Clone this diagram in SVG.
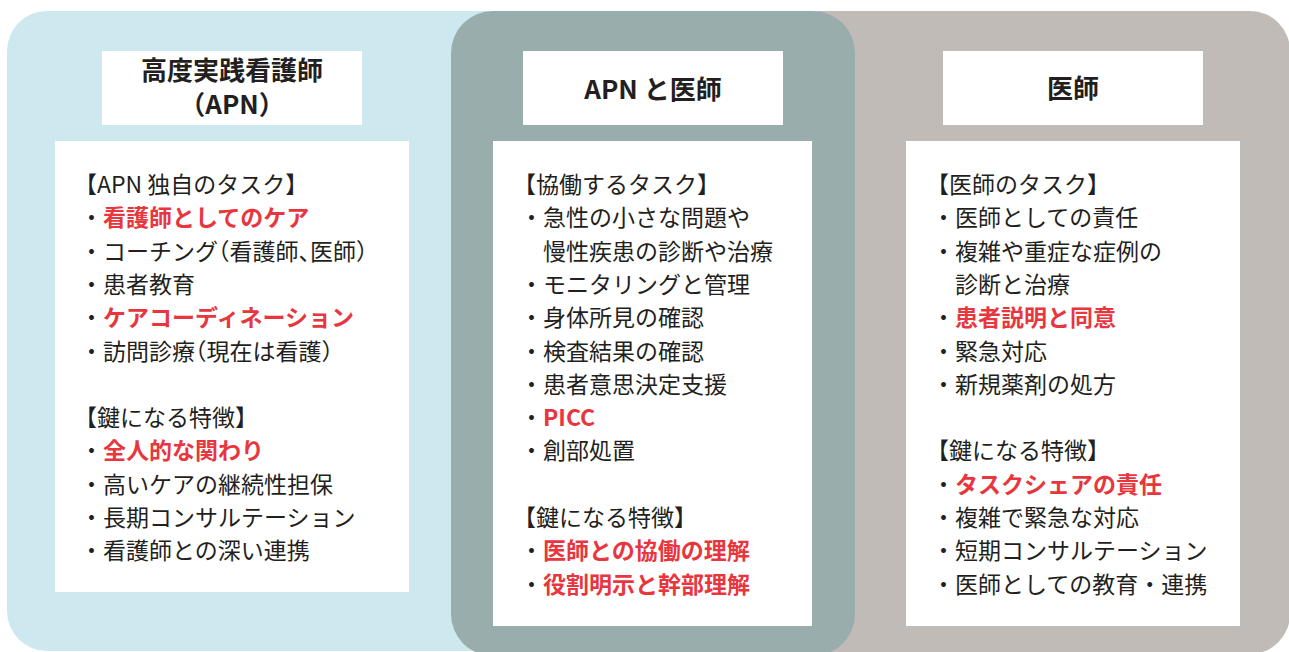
<svg xmlns="http://www.w3.org/2000/svg" width="1289" height="652" viewBox="0 0 1289 652">
<style>
.box{fill:#ffffff}
.title{font-family:"Noto Sans CJK JP","Noto Sans",sans-serif;font-weight:700;font-size:26px;fill:#231f20;text-anchor:middle}
.t{font-family:"Noto Sans CJK JP","Noto Sans",sans-serif;font-size:23px;fill:#231f20}
.r{font-weight:700;fill:#e8363f}
.h{font-feature-settings:"halt"}
</style>
<rect width="1289" height="652" fill="#ffffff"/>
<g id="panels">
<rect id="panel-apn" x="7" y="11" width="520" height="640" rx="40" fill="#cde9ef"/>
<rect id="panel-doctor" x="780" y="11" width="510" height="643" rx="40" fill="#c1bbb7"/>
<rect id="panel-both" x="451" y="11" width="404" height="645" rx="42" fill="#9aadad"/>
</g>
<g id="connectors"/>
<g id="node-apn">
<rect class="box" x="102" y="51" width="260" height="74"/>
<text class="title" x="232" y="80">高度実践看護師</text>
<text class="title" x="232" y="114">（APN）</text>
<rect class="box" x="55" y="141" width="354" height="451"/>
<text class="t" x="74" y="193">【APN 独自のタスク】</text>
<text class="t" x="80" y="226.3">・<tspan class="r">看護師としてのケア</tspan></text>
<text class="t" x="80" y="259.6">・コーチング<tspan class="h">（</tspan>看護師<tspan class="h">、</tspan>医師<tspan class="h">）</tspan></text>
<text class="t" x="80" y="292.9">・患者教育</text>
<text class="t" x="80" y="326.2">・<tspan class="r">ケアコーディネーション</tspan></text>
<text class="t" x="80" y="359.5">・訪問診療<tspan class="h">（</tspan>現在は看護<tspan class="h">）</tspan></text>
<text class="t" x="74" y="426.1">【鍵になる特徴】</text>
<text class="t" x="80" y="459.4">・<tspan class="r">全人的な関わり</tspan></text>
<text class="t" x="80" y="492.7">・高いケアの継続性担保</text>
<text class="t" x="80" y="526">・長期コンサルテーション</text>
<text class="t" x="80" y="559.3">・看護師との深い連携</text>
</g>
<g id="node-both">
<rect class="box" x="523" y="51" width="260" height="74"/>
<text class="title" x="653" y="99">APN と医師</text>
<rect class="box" x="493" y="141" width="319" height="485"/>
<text class="t" x="513" y="193">【協働するタスク】</text>
<text class="t" x="520" y="226.3">・急性の小さな問題や</text>
<text class="t" x="543" y="259.6">慢性疾患の診断や治療</text>
<text class="t" x="520" y="292.9">・モニタリングと管理</text>
<text class="t" x="520" y="326.2">・身体所見の確認</text>
<text class="t" x="520" y="359.5">・検査結果の確認</text>
<text class="t" x="520" y="392.8">・患者意思決定支援</text>
<text class="t" x="520" y="426.1">・<tspan class="r">PICC</tspan></text>
<text class="t" x="520" y="459.4">・創部処置</text>
<text class="t" x="513" y="526">【鍵になる特徴】</text>
<text class="t" x="520" y="559.3">・<tspan class="r">医師との協働の理解</tspan></text>
<text class="t" x="520" y="592.6">・<tspan class="r">役割明示と幹部理解</tspan></text>
</g>
<g id="node-doctor">
<rect class="box" x="943" y="51" width="260" height="74"/>
<text class="title" x="1073" y="98">医師</text>
<rect class="box" x="906" y="141" width="334" height="485"/>
<text class="t" x="926" y="193">【医師のタスク】</text>
<text class="t" x="932" y="226.3">・医師としての責任</text>
<text class="t" x="932" y="259.6">・複雑や重症な症例の</text>
<text class="t" x="955" y="292.9">診断と治療</text>
<text class="t" x="932" y="326.2">・<tspan class="r">患者説明と同意</tspan></text>
<text class="t" x="932" y="359.5">・緊急対応</text>
<text class="t" x="932" y="392.8">・新規薬剤の処方</text>
<text class="t" x="926" y="459.4">【鍵になる特徴】</text>
<text class="t" x="932" y="492.7">・<tspan class="r">タスクシェアの責任</tspan></text>
<text class="t" x="932" y="526">・複雑で緊急な対応</text>
<text class="t" x="932" y="559.3">・短期コンサルテーション</text>
<text class="t" x="932" y="592.6">・医師としての教育・連携</text>
</g>
</svg>
